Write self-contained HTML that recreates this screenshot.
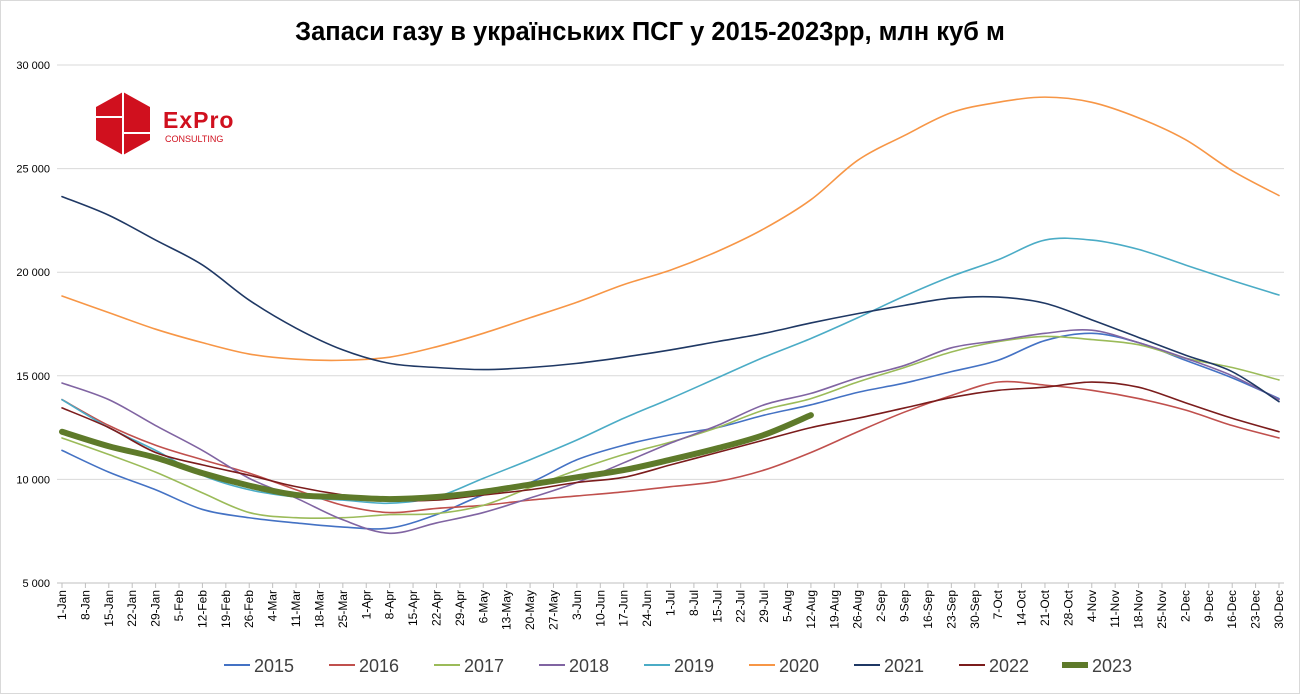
<!DOCTYPE html>
<html><head><meta charset="utf-8">
<style>
html,body{margin:0;padding:0;background:#fff;}
svg{display:block;font-family:"Liberation Sans",sans-serif;}
</style></head>
<body>
<svg id="chart" width="1300" height="694" viewBox="0 0 1300 694">
<rect x="0.5" y="0.5" width="1299" height="693" fill="#fff" stroke="#d9d9d9"/>
<text x="650" y="40" text-anchor="middle" font-size="25.5" font-weight="bold" fill="#000">Запаси газу в українських ПСГ у 2015-2023рр, млн куб м</text>
<g>
<polygon points="123,92 150,107 150,140 123,155 96,140 96,107" fill="#d0101e"/>
<line x1="123" y1="92" x2="123" y2="155" stroke="#fff" stroke-width="2"/>
<line x1="96" y1="117" x2="123" y2="117" stroke="#fff" stroke-width="2"/>
<line x1="123" y1="133" x2="150" y2="133" stroke="#fff" stroke-width="2"/>
<text x="163" y="128" font-size="23" font-weight="bold" fill="#d0101e" letter-spacing="1">ExPro</text>
<text x="165" y="142" font-size="9" fill="#d0101e">CONSULTING</text>
</g>
<g id="grid"></g><g id="yaxis"></g><g id="xaxis"></g><g id="series"></g><g id="legend"></g>
</svg>
<script>
const yTicks=[5000,10000,15000,20000,25000,30000];
const yTickLabels=["5 000","10 000","15 000","20 000","25 000","30 000"];
const seriesNames=["2015","2016","2017","2018","2019","2020","2021","2022","2023"];
const seriesColors=["#4472c4","#c0504d","#9bbb59","#8064a2","#4bacc6","#f79646","#1f3864","#7b1c1c","#5e7a2a"];
const sampleDays=[0,14,28,42,56,70,84,98,112,126,140,154,168,182,196,210,224,238,252,266,280,294,308,322,336,350,364];
const v2015=[11400,10350,9500,8550,8150,7900,7700,7650,8300,9250,9850,10950,11650,12150,12500,13100,13600,14200,14650,15200,15750,16700,17050,16600,15750,14900,13900];
const v2016=[13850,12600,11650,10950,10300,9500,8750,8400,8600,8750,9000,9200,9400,9650,9900,10450,11300,12300,13250,14050,14700,14550,14300,13900,13350,12600,12000];
const v2017=[12000,11200,10350,9350,8400,8150,8150,8300,8350,8750,9600,10450,11200,11800,12500,13350,13900,14700,15400,16150,16650,16900,16750,16500,15850,15400,14800];
const v2018=[14650,13850,12600,11400,10050,9100,8050,7400,7900,8400,9100,9850,10800,11750,12600,13600,14150,14900,15500,16350,16700,17050,17200,16600,15850,15000,13850];
const v2019=[13850,12500,11400,10200,9500,9150,9000,8850,9150,10050,10950,11900,12950,13900,14900,15900,16800,17800,18850,19800,20600,21550,21550,21100,20350,19600,18900];
const v2020=[18850,18050,17250,16600,16050,15800,15750,15900,16400,17050,17800,18550,19400,20100,21000,22100,23500,25400,26600,27700,28200,28450,28200,27450,26400,24900,23700];
const v2021=[23650,22750,21550,20350,18650,17300,16250,15600,15400,15300,15400,15600,15900,16250,16650,17050,17550,18000,18400,18750,18800,18500,17700,16850,16000,15200,13750];
const v2022=[13450,12500,11300,10700,10200,9650,9250,9000,9000,9250,9500,9850,10100,10700,11300,11900,12500,12950,13450,13950,14300,14450,14700,14450,13700,12950,12300];
const v2023=[12300,11600,11050,10300,9700,9250,9150,9050,9150,9400,9750,10100,10450,10950,11500,12150,13100];
const allValues=[v2015,v2016,v2017,v2018,v2019,v2020,v2021,v2022,v2023];

const NS="http://www.w3.org/2000/svg";
const X0=62,X1=1279,Y0=583,Y1=65,YMIN=5000,YMAX=30000,DMAX=364;
function xs(d){return X0+(X1-X0)*d/DMAX;}
function ys(v){return Y0-(Y0-Y1)*(v-YMIN)/(YMAX-YMIN);}
function mk(tag,attrs,parent){const e=document.createElementNS(NS,tag);for(const k in attrs)e.setAttribute(k,attrs[k]);parent.appendChild(e);return e;}

const grid=document.getElementById('grid'),yax=document.getElementById('yaxis'),xax=document.getElementById('xaxis'),ser=document.getElementById('series'),leg=document.getElementById('legend');
yTicks.forEach((t,i)=>{
  const l=mk('line',{x1:57,x2:1284,y1:ys(t),y2:ys(t),stroke:i===0?'#bfbfbf':'#d9d9d9','stroke-width':1},grid);
  
  
  const tx=mk('text',{x:50,y:ys(t)+4,'text-anchor':'end','font-size':11,fill:'#000'},yax);
  tx.textContent=yTickLabels[i];
  
  
});
const mon=["Jan","Feb","Mar","Apr","May","Jun","Jul","Aug","Sep","Oct","Nov","Dec"];
const mlen=[31,29,31,30,31,30,31,31,30,31,30,31];
for(let d=0;d<=364;d+=7){
  let m=0,r=d;while(r>=mlen[m]){r-=mlen[m];m++;}
  const x=xs(d);
  mk('line',{x1:x,x2:x,y1:583,y2:588,stroke:'#bfbfbf'},xax);
  const tx=mk('text',{transform:`translate(${x+4},590) rotate(-90)`,'text-anchor':'end','font-size':12,fill:'#000'},xax);
  tx.textContent=(r+1)+'-'+mon[m];
  
  
}
function smooth(pts){
  let d=`M${pts[0][0]},${pts[0][1]}`;
  for(let i=0;i<pts.length-1;i++){
    const p0=pts[i-1]||pts[i],p1=pts[i],p2=pts[i+1],p3=pts[i+2]||p2;
    d+=` C${p1[0]+(p2[0]-p0[0])/6},${p1[1]+(p2[1]-p0[1])/6} ${p2[0]-(p3[0]-p1[0])/6},${p2[1]-(p3[1]-p1[1])/6} ${p2[0]},${p2[1]}`;
  }
  return d;
}
allValues.forEach((vals,i)=>{
  const pts=vals.map((v,j)=>[xs(sampleDays[j]),ys(v)]);
  const p=mk('path',{d:smooth(pts),fill:'none',stroke:seriesColors[i],'stroke-width':i===8?6:1.6,'stroke-linecap':'round'},ser);
  
  
});
const legX=[252,357,462,567,672,777,882,987,1090];
seriesNames.forEach((n,i)=>{
  const g=mk('g',{},leg);
  
  
  mk('line',{x1:legX[i]-28,x2:legX[i]-2,y1:665,y2:665,stroke:seriesColors[i],'stroke-width':i===8?6:2},g);
  const t=mk('text',{x:legX[i]+2,y:672,'font-size':18,fill:'#404040'},g);
  t.textContent=n;
});
</script>
</body></html>
